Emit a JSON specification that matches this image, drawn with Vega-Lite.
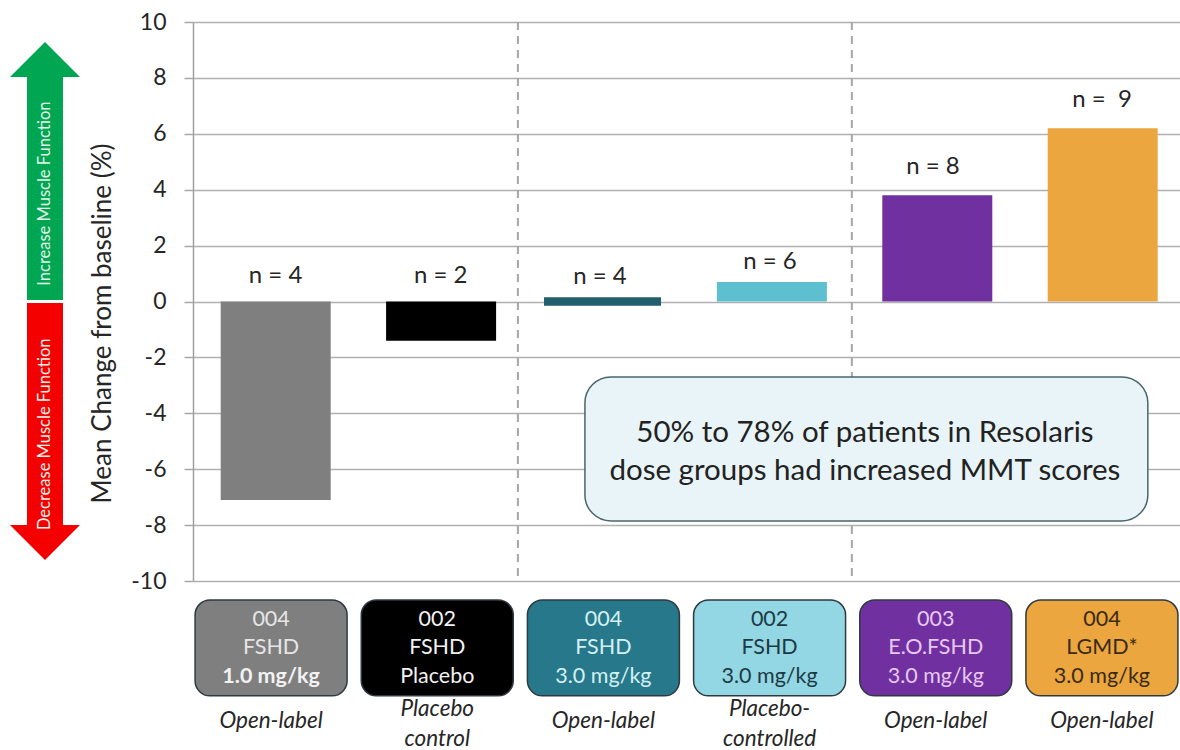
{
  "$schema": "https://vega.github.io/schema/vega-lite/v6.json",
  "width": 987,
  "height": 559,
  "autosize": "none",
  "padding": {"left": 193, "top": 22, "right": 0, "bottom": 169},
  "background": "white",
  "config": {"font": "Lato", "view": {"stroke": null}},
  "datasets": {
    "cohorts": [
      {"cohort": "004 FSHD 1.0", "study": "004", "indication": "FSHD", "dose": "1.0 mg/kg", "design": "Open-label", "n": "n = 4", "change": -7.1},
      {"cohort": "002 FSHD Placebo", "study": "002", "indication": "FSHD", "dose": "Placebo", "design": "Placebo|control", "n": "n = 2", "change": -1.4},
      {"cohort": "004 FSHD 3.0", "study": "004", "indication": "FSHD", "dose": "3.0 mg/kg", "design": "Open-label", "n": "n = 4", "change": 0.15},
      {"cohort": "002 FSHD 3.0", "study": "002", "indication": "FSHD", "dose": "3.0 mg/kg", "design": "Placebo-|controlled", "n": "n = 6", "change": 0.7},
      {"cohort": "003 E.O.FSHD 3.0", "study": "003", "indication": "E.O.FSHD", "dose": "3.0 mg/kg", "design": "Open-label", "n": "n = 8", "change": 3.8},
      {"cohort": "004 LGMD 3.0", "study": "004", "indication": "LGMD*", "dose": "3.0 mg/kg", "design": "Open-label", "n": "n = \u00a09", "change": 6.2}
    ],
    "arrows": [
      {"direction": "Increase Muscle Function", "base": 0.05, "neck": 8.03, "mid": 3.86},
      {"direction": "Decrease Muscle Function", "base": -0.05, "neck": -8.0, "mid": -4.75}
    ],
    "dividers": [{"slot": 1.967}, {"slot": 3.989}],
    "callout": [{"line": "50% to 78% of patients in Resolaris", "level": -4.72}, {"line": "dose groups had increased MMT scores", "level": -6.08}]
  },
  "layer": [
    {
      "data": {"name": "dividers"},
      "mark": {"type": "rule", "color": "#a6a6a6", "strokeWidth": 2, "strokeDash": [8, 6]},
      "encoding": {
        "x": {"field": "slot", "type": "quantitative", "scale": {"domain": [0, 6], "range": [0, 991]}, "axis": null},
        "y": {"datum": 10, "type": "quantitative", "scale": {"domain": [-10, 10]},
          "axis": {
            "title": "Mean Change from baseline (%)",
            "titleFont": "Lato", "titleFontSize": 26, "titleFontWeight": "normal", "titleColor": "#262626",
            "titleX": -78, "titleY": 301,
            "values": [-10, -8, -6, -4, -2, 0, 2, 4, 6, 8, 10],
            "labelExpr": "datum.value + ''",
            "labelFont": "Lato", "labelFontSize": 23, "labelColor": "#262626", "labelPadding": 18,
            "tickSize": 9, "tickColor": "#a8a8a8", "tickWidth": 1.5,
            "domainColor": "#a0a0a0", "domainWidth": 1.5,
            "grid": true, "gridColor": "#b0b0b0", "gridWidth": 1.5
          }
        },
        "y2": {"datum": -10}
      }
    },
    {
      "data": {"name": "cohorts"},
      "transform": [{"filter": "datum.cohort !== '004 FSHD 3.0'"}],
      "mark": {"type": "bar", "size": 110},
      "encoding": {
        "x": {"field": "cohort", "type": "nominal", "scale": {"type": "band", "range": [0, 992.4], "domain": ["004 FSHD 1.0", "002 FSHD Placebo", "004 FSHD 3.0", "002 FSHD 3.0", "003 E.O.FSHD 3.0", "004 LGMD 3.0"]}, "axis": null},
        "y": {"field": "change", "type": "quantitative"},
        "color": {"field": "cohort", "type": "nominal", "legend": null,
          "scale": {"domain": ["004 FSHD 1.0", "002 FSHD Placebo", "002 FSHD 3.0", "003 E.O.FSHD 3.0", "004 LGMD 3.0"], "range": ["#7f7f7f", "#000000", "#5cc0d0", "#7030a0", "#eba63f"]}}
      }
    },
    {
      "data": {"name": "cohorts"},
      "transform": [{"filter": "datum.cohort === '004 FSHD 3.0'"}],
      "mark": {"type": "bar", "size": 117, "color": "#215f6e"},
      "encoding": {
        "x": {"field": "cohort", "type": "nominal", "scale": {"type": "band", "range": [-3.4, 987.6], "domain": ["004 FSHD 1.0", "002 FSHD Placebo", "004 FSHD 3.0", "002 FSHD 3.0", "003 E.O.FSHD 3.0", "004 LGMD 3.0"]}, "axis": null},
        "y": {"field": "change", "type": "quantitative"},
        "y2": {"datum": -0.15}
      }
    },
    {
      "data": {"name": "cohorts"},
      "transform": [{"filter": "datum.change < 0"}, {"calculate": "max(datum.change, 0)", "as": "top"}],
      "mark": {"type": "text", "fontSize": 24, "color": "#262626", "dy": -25.5},
      "encoding": {
        "x": {"field": "cohort", "type": "nominal", "scale": {"type": "band", "range": [0, 991], "domain": ["004 FSHD 1.0", "002 FSHD Placebo", "004 FSHD 3.0", "002 FSHD 3.0", "003 E.O.FSHD 3.0", "004 LGMD 3.0"]}, "axis": null},
        "y": {"field": "top", "type": "quantitative"},
        "text": {"field": "n"}
      }
    },
    {
      "data": {"name": "cohorts"},
      "transform": [{"filter": "datum.change > 0 && datum.change < 1"}],
      "mark": {"type": "text", "fontSize": 24, "color": "#262626", "dy": -20},
      "encoding": {
        "x": {"field": "cohort", "type": "nominal", "scale": {"type": "band", "range": [-18, 1002], "domain": ["004 FSHD 1.0", "002 FSHD Placebo", "004 FSHD 3.0", "002 FSHD 3.0", "003 E.O.FSHD 3.0", "004 LGMD 3.0"]}, "axis": null},
        "y": {"field": "change", "type": "quantitative"},
        "text": {"field": "n"}
      }
    },
    {
      "data": {"name": "cohorts"},
      "transform": [{"filter": "datum.change > 1"}],
      "mark": {"type": "text", "fontSize": 24, "color": "#262626", "dy": -28.5},
      "encoding": {
        "x": {"field": "cohort", "type": "nominal", "scale": {"type": "band", "range": [-20.5, 993.5], "domain": ["004 FSHD 1.0", "002 FSHD Placebo", "004 FSHD 3.0", "002 FSHD 3.0", "003 E.O.FSHD 3.0", "004 LGMD 3.0"]}, "axis": null},
        "y": {"field": "change", "type": "quantitative"},
        "text": {"field": "n"}
      }
    },
    {
      "data": {"name": "cohorts"},
      "mark": {"type": "bar", "size": 152, "cornerRadius": 15, "stroke": "#2f3a40", "strokeWidth": 1.5, "clip": false},
      "encoding": {
        "x": {"field": "cohort", "type": "nominal", "scale": {"type": "band", "range": [-5, 992], "domain": ["004 FSHD 1.0", "002 FSHD Placebo", "004 FSHD 3.0", "002 FSHD 3.0", "003 E.O.FSHD 3.0", "004 LGMD 3.0"]}, "axis": null},
        "y": {"datum": -10.68},
        "y2": {"datum": -14.11},
        "color": {"field": "cohort", "type": "nominal", "legend": null,
          "scale": {"domain": ["004 FSHD 1.0", "002 FSHD Placebo", "004 FSHD 3.0", "002 FSHD 3.0", "003 E.O.FSHD 3.0", "004 LGMD 3.0"], "range": ["#7f7f7f", "#000000", "#26788a", "#92d7e3", "#7030a0", "#eba63f"]}}
      }
    },
    {
      "data": {"name": "cohorts"},
      "mark": {"type": "text", "fontSize": 21.5},
      "encoding": {
        "x": {"field": "cohort", "type": "nominal", "scale": {"type": "band", "range": [-5, 992], "domain": ["004 FSHD 1.0", "002 FSHD Placebo", "004 FSHD 3.0", "002 FSHD 3.0", "003 E.O.FSHD 3.0", "004 LGMD 3.0"]}, "axis": null},
        "y": {"datum": -11.38},
        "text": {"field": "study"},
        "color": {"field": "cohort", "type": "nominal", "legend": null,
          "scale": {"domain": ["004 FSHD 1.0", "002 FSHD Placebo", "004 FSHD 3.0", "002 FSHD 3.0", "003 E.O.FSHD 3.0", "004 LGMD 3.0"], "range": ["#e6e6e6", "#f2f2f2", "#d5f0f2", "#1d3a44", "#e6c8f2", "#3a2a10"]}}
      }
    },
    {
      "data": {"name": "cohorts"},
      "mark": {"type": "text", "fontSize": 21.5},
      "encoding": {
        "x": {"field": "cohort", "type": "nominal", "scale": {"type": "band", "range": [-5, 992], "domain": ["004 FSHD 1.0", "002 FSHD Placebo", "004 FSHD 3.0", "002 FSHD 3.0", "003 E.O.FSHD 3.0", "004 LGMD 3.0"]}, "axis": null},
        "y": {"datum": -12.38},
        "text": {"field": "indication"},
        "color": {"field": "cohort", "type": "nominal", "legend": null,
          "scale": {"domain": ["004 FSHD 1.0", "002 FSHD Placebo", "004 FSHD 3.0", "002 FSHD 3.0", "003 E.O.FSHD 3.0", "004 LGMD 3.0"], "range": ["#e6e6e6", "#f2f2f2", "#d5f0f2", "#1d3a44", "#e6c8f2", "#3a2a10"]}}
      }
    },
    {
      "data": {"name": "cohorts"},
      "transform": [{"filter": "datum.dose !== '1.0 mg/kg'"}],
      "mark": {"type": "text", "fontSize": 21.5},
      "encoding": {
        "x": {"field": "cohort", "type": "nominal", "scale": {"type": "band", "range": [-5, 992], "domain": ["004 FSHD 1.0", "002 FSHD Placebo", "004 FSHD 3.0", "002 FSHD 3.0", "003 E.O.FSHD 3.0", "004 LGMD 3.0"]}, "axis": null},
        "y": {"datum": -13.43},
        "text": {"field": "dose"},
        "color": {"field": "cohort", "type": "nominal", "legend": null,
          "scale": {"domain": ["002 FSHD Placebo", "004 FSHD 3.0", "002 FSHD 3.0", "003 E.O.FSHD 3.0", "004 LGMD 3.0"], "range": ["#f2f2f2", "#d5f0f2", "#1d3a44", "#e6c8f2", "#3a2a10"]}}
      }
    },
    {
      "data": {"name": "cohorts"},
      "transform": [{"filter": "datum.dose === '1.0 mg/kg'"}],
      "mark": {"type": "text", "fontSize": 21.5, "fontWeight": "bold", "color": "#f2f2f2"},
      "encoding": {
        "x": {"field": "cohort", "type": "nominal", "scale": {"type": "band", "range": [-5, 992], "domain": ["004 FSHD 1.0", "002 FSHD Placebo", "004 FSHD 3.0", "002 FSHD 3.0", "003 E.O.FSHD 3.0", "004 LGMD 3.0"]}, "axis": null},
        "y": {"datum": -13.43},
        "text": {"field": "dose"}
      }
    },
    {
      "data": {"name": "cohorts"},
      "transform": [{"filter": "indexof(datum.design, '|') < 0"}],
      "mark": {"type": "text", "fontSize": 22.5, "fontStyle": "italic", "color": "#262626"},
      "encoding": {
        "x": {"field": "cohort", "type": "nominal", "scale": {"type": "band", "range": [-5, 992], "domain": ["004 FSHD 1.0", "002 FSHD Placebo", "004 FSHD 3.0", "002 FSHD 3.0", "003 E.O.FSHD 3.0", "004 LGMD 3.0"]}, "axis": null},
        "y": {"datum": -15.0},
        "text": {"field": "design"}
      }
    },
    {
      "data": {"name": "cohorts"},
      "transform": [{"filter": "indexof(datum.design, '|') >= 0"}],
      "mark": {"type": "text", "fontSize": 22.5, "fontStyle": "italic", "color": "#262626", "lineBreak": "|", "lineHeight": 30},
      "encoding": {
        "x": {"field": "cohort", "type": "nominal", "scale": {"type": "band", "range": [-5, 992], "domain": ["004 FSHD 1.0", "002 FSHD Placebo", "004 FSHD 3.0", "002 FSHD 3.0", "003 E.O.FSHD 3.0", "004 LGMD 3.0"]}, "axis": null},
        "y": {"datum": -14.58},
        "text": {"field": "design"}
      }
    },
    {
      "data": {"name": "arrows"},
      "mark": {"type": "rule", "strokeWidth": 36, "strokeCap": "butt"},
      "encoding": {
        "x": {"datum": -0.896, "type": "quantitative", "scale": {"domain": [0, 6], "range": [0, 991]}, "axis": null},
        "y": {"field": "base", "type": "quantitative"},
        "y2": {"field": "neck"},
        "color": {"field": "direction", "type": "nominal", "legend": null,
          "scale": {"domain": ["Increase Muscle Function", "Decrease Muscle Function"], "range": ["#00a651", "#f40000"]}}
      }
    },
    {
      "data": {"name": "arrows"},
      "transform": [{"filter": "datum.neck > 0"}],
      "mark": {"type": "point", "shape": "M-1,0L0,-1L1,0Z", "filled": true, "size": 4900, "opacity": 1, "color": "#00a651"},
      "encoding": {
        "x": {"datum": -0.896, "type": "quantitative", "scale": {"domain": [0, 6], "range": [0, 991]}, "axis": null},
        "y": {"field": "neck", "type": "quantitative"}
      }
    },
    {
      "data": {"name": "arrows"},
      "transform": [{"filter": "datum.neck < 0"}],
      "mark": {"type": "point", "shape": "M-1,0L0,1L1,0Z", "filled": true, "size": 4900, "opacity": 1, "color": "#f40000"},
      "encoding": {
        "x": {"datum": -0.896, "type": "quantitative", "scale": {"domain": [0, 6], "range": [0, 991]}, "axis": null},
        "y": {"field": "neck", "type": "quantitative"}
      }
    },
    {
      "data": {"name": "arrows"},
      "mark": {"type": "text", "angle": 270, "fontSize": 16.5, "color": "#e4f4ea"},
      "encoding": {
        "x": {"datum": -0.896, "type": "quantitative", "scale": {"domain": [0, 6], "range": [0, 991]}, "axis": null},
        "y": {"field": "mid", "type": "quantitative"},
        "text": {"field": "direction"}
      }
    },
    {
      "data": {"values": [{"shape": "callout"}]},
      "mark": {"type": "rect", "cornerRadius": 26, "fill": "#e8f4f7", "stroke": "#47666c", "strokeWidth": 1.5},
      "encoding": {
        "x": {"datum": 2.373, "type": "quantitative", "scale": {"domain": [0, 6], "range": [0, 991]}, "axis": null},
        "x2": {"datum": 5.781},
        "y": {"datum": -2.7, "type": "quantitative"},
        "y2": {"datum": -7.85}
      }
    },
    {
      "data": {"name": "callout"},
      "mark": {"type": "text", "fontSize": 29.5, "color": "#222222"},
      "encoding": {
        "x": {"datum": 4.068, "type": "quantitative", "scale": {"domain": [0, 6], "range": [0, 991]}, "axis": null},
        "y": {"field": "level", "type": "quantitative"},
        "text": {"field": "line"}
      }
    }
  ],
  "resolve": {"scale": {"x": "independent", "color": "independent"}}
}
